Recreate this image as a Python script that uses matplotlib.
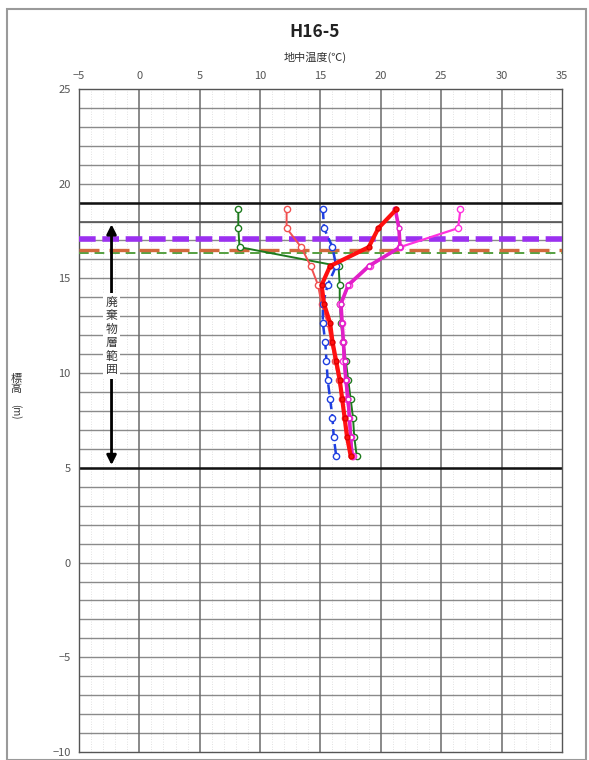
import matplotlib
matplotlib.use("Agg")
import matplotlib.pyplot as plt
from matplotlib.patches import Rectangle
import numpy as np

plt.rcParams['font.family'] = ['Noto Sans CJK JP', 'DejaVu Sans']

# Depth (elevation, m) of each measurement
elev = [18.65, 17.65, 16.65, 15.65, 14.65, 13.65, 12.65, 11.65,
        10.65, 9.65, 8.65, 7.65, 6.65, 5.65]

# Ground temperature profiles (deg C)
temp_green = [8.2, 8.2, 8.3, 16.5, 16.6, 16.6, 16.7, 16.9, 17.1, 17.3, 17.5, 17.7, 17.8, 18.0]
temp_salmon = [12.2, 12.2, 13.4, 14.2, 14.8, 15.1, 15.6, 15.9, 16.2, 16.5, 16.8, 17.0, 17.3, 17.6]
temp_blue = [15.2, 15.3, 16.0, 16.3, 15.6, 15.2, 15.2, 15.4, 15.5, 15.6, 15.8, 16.0, 16.1, 16.3]
temp_magenta = [26.6, 26.4, 21.6, 19.1, 17.4, 16.6, 16.8, 16.9, 16.9, 17.1, 17.2, 17.4, 17.5, 17.7]
temp_violet = [21.2, 21.5, 21.6, 19.0, 17.3, 16.7, 16.8, 16.9, 17.0, 17.1, 17.3, 17.4, 17.5, 17.6]
temp_red = [21.3, 19.8, 19.0, 15.8, 15.1, 15.3, 15.8, 16.0, 16.3, 16.6, 16.8, 17.0, 17.2, 17.5]

# Water levels (m)
level_purple = 17.1
level_brown = 16.5
level_green = 16.35

# Waste layer range (m)
layer_top = 19.0
layer_bottom = 5.0
arrow_top = 18.0

xticks = [-5, 0, 5, 10, 15, 20, 25, 30, 35]
yticks = [25, 20, 15, 10, 5, 0, -5, -10]

fig = plt.figure(figsize=(5.89, 7.60), dpi=100)
ax = fig.add_axes([0.134, 0.0105, 0.820, 0.8725])
ax.set_xlim(-5, 35)
ax.set_ylim(-10, 25)

# Grid: horizontal every 1 m, vertical every 5 deg, faint dotted every 1 deg
for x in np.arange(-4, 35, 1):
    if x % 5:
        ax.axvline(x, color='#d8d8d8', lw=0.6, ls=(0, (1, 2)), zorder=1)
for y in np.arange(-9, 25, 1):
    ax.axhline(y, color='#8a8a8a', lw=1.0, zorder=1)
for x in xticks[1:-1]:
    ax.axvline(x, color='#6a6a6a', lw=1.1, zorder=1)
ax.axhline(arrow_top, color='#555555', lw=1.2, zorder=1)
ax.axhline(layer_top, color='#111111', lw=1.8, zorder=2)
ax.axhline(layer_bottom, color='#111111', lw=1.8, zorder=2)

# Water level lines
ax.axhline(level_green, color='#55a040', lw=1.4, ls=(0, (5, 3)), zorder=3)
ax.axhline(level_brown, color='#d2693c', lw=2.4, ls=(0, (6, 3)), zorder=3)
ax.axhline(level_purple, color='#9b30f0', lw=4.0, ls=(0, (3, 1.2)), zorder=3)

def profile(temps, color, lw, ls='-', ms=4.5, z=5):
    ax.plot(temps, elev, color=color, lw=lw, ls=ls, marker='o', ms=ms,
            mfc='white', mec=color, mew=1.0, zorder=z)

profile(temp_green, '#1e7a1e', 1.4)
profile(temp_salmon, '#f05050', 1.4)
profile(temp_blue, '#1f3fe0', 1.8, ls=(0, (4, 2)))
profile(temp_magenta, '#ff33dd', 1.6)
profile(temp_violet, '#e020c8', 2.6, ms=3.5, z=6)
ax.plot(temp_red, elev, color='#ff1010', lw=3.0, marker='o', ms=3.5,
        mfc='#ff1010', mec='#dd0000', zorder=7)

# Waste layer arrow and label
ax.annotate('', xy=(-2.3, layer_bottom), xytext=(-2.3, arrow_top),
            arrowprops=dict(arrowstyle='<|-|>', color='black', lw=2.0,
                            mutation_scale=14), zorder=8)
ax.text(-2.3, 11.95, '廃\n棄\n物\n層\n範\n囲', ha='center', va='center',
        fontsize=8.5, color='#333333', linespacing=1.05, zorder=9,
        bbox=dict(boxstyle='square,pad=0.25', fc='white', ec='none'))

# Axes ticks on top
ax.xaxis.tick_top()
ax.set_xticks(xticks)
ax.set_yticks(yticks)
ax.tick_params(axis='both', length=0, labelsize=8, colors='#555555', pad=6)
for s in ax.spines.values():
    s.set_color('#555555')
    s.set_linewidth(1.0)

fig.text(0.535, 0.924, '地中温度(℃)', ha='center', va='center',
         fontsize=8, color='#333333')
fig.text(0.535, 0.958, 'H16-5', ha='center', va='center',
         fontsize=12.5, fontweight='bold', color='#222222')

# Elevation label
fig.text(0.027, 0.495, '標\n高', ha='center', va='center', fontsize=8,
         color='#333333', linespacing=1.0)
fig.text(0.027, 0.458, '(m)', ha='center', va='center', fontsize=7,
         color='#333333', rotation=-90)

# Outer frame
fig.patches.append(Rectangle((0.012, 0.0), 0.983, 0.988, transform=fig.transFigure,
                             fill=False, ec='#9a9a9a', lw=1.5))

fig.savefig('out.png', dpi=100)
